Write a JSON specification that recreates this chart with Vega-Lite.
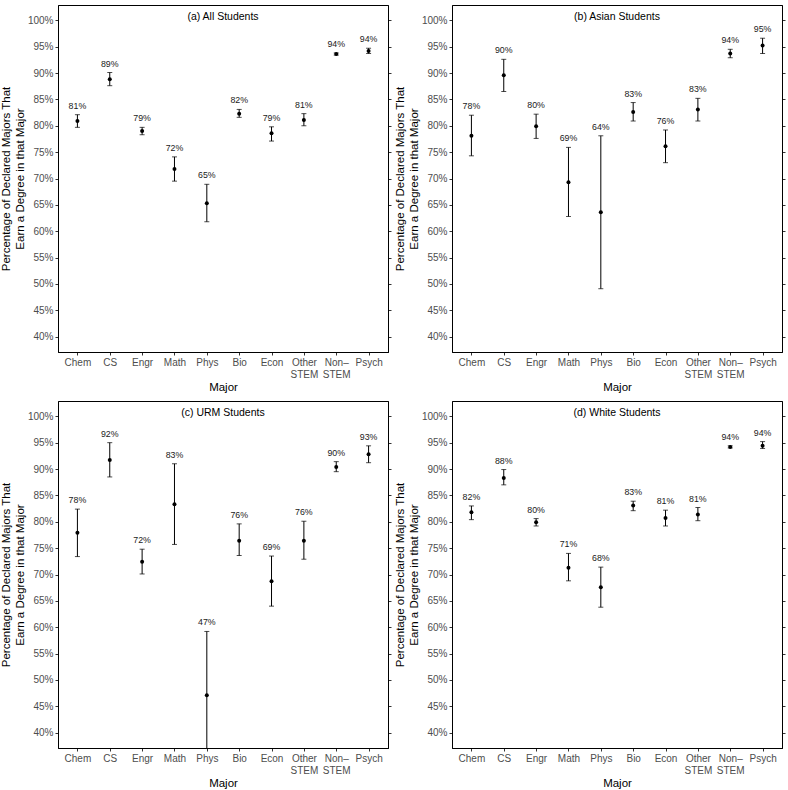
{
  "$schema": "https://vega.github.io/schema/vega-lite/v6.json",
  "description": "Percentage of declared majors that earn a degree in that major, by student group",
  "background": "white",
  "padding": {"left": 0, "top": 4, "right": 2, "bottom": 2},
  "data": {
    "values": [
      {"panel": "(a) All Students", "major": "Chem", "value": 0.809, "lo": 0.797, "hi": 0.821},
      {"panel": "(a) All Students", "major": "CS", "value": 0.888, "lo": 0.876, "hi": 0.901},
      {"panel": "(a) All Students", "major": "Engr", "value": 0.790, "lo": 0.783, "hi": 0.797},
      {"panel": "(a) All Students", "major": "Math", "value": 0.718, "lo": 0.695, "hi": 0.741},
      {"panel": "(a) All Students", "major": "Phys", "value": 0.653, "lo": 0.618, "hi": 0.689},
      {"panel": "(a) All Students", "major": "Bio", "value": 0.823, "lo": 0.816, "hi": 0.831},
      {"panel": "(a) All Students", "major": "Econ", "value": 0.786, "lo": 0.771, "hi": 0.798},
      {"panel": "(a) All Students", "major": "Other STEM", "value": 0.811, "lo": 0.800, "hi": 0.823},
      {"panel": "(a) All Students", "major": "Non–STEM", "value": 0.936, "lo": 0.934, "hi": 0.938},
      {"panel": "(a) All Students", "major": "Psych", "value": 0.942, "lo": 0.937, "hi": 0.947},

      {"panel": "(b) Asian Students", "major": "Chem", "value": 0.781, "lo": 0.743, "hi": 0.820},
      {"panel": "(b) Asian Students", "major": "CS", "value": 0.896, "lo": 0.865, "hi": 0.926},
      {"panel": "(b) Asian Students", "major": "Engr", "value": 0.799, "lo": 0.776, "hi": 0.822},
      {"panel": "(b) Asian Students", "major": "Math", "value": 0.693, "lo": 0.628, "hi": 0.759},
      {"panel": "(b) Asian Students", "major": "Phys", "value": 0.636, "lo": 0.491, "hi": 0.781},
      {"panel": "(b) Asian Students", "major": "Bio", "value": 0.826, "lo": 0.809, "hi": 0.844},
      {"panel": "(b) Asian Students", "major": "Econ", "value": 0.761, "lo": 0.730, "hi": 0.792},
      {"panel": "(b) Asian Students", "major": "Other STEM", "value": 0.831, "lo": 0.809, "hi": 0.852},
      {"panel": "(b) Asian Students", "major": "Non–STEM", "value": 0.937, "lo": 0.929, "hi": 0.945},
      {"panel": "(b) Asian Students", "major": "Psych", "value": 0.952, "lo": 0.937, "hi": 0.966},

      {"panel": "(c) URM Students", "major": "Chem", "value": 0.779, "lo": 0.734, "hi": 0.824},
      {"panel": "(c) URM Students", "major": "CS", "value": 0.917, "lo": 0.885, "hi": 0.950},
      {"panel": "(c) URM Students", "major": "Engr", "value": 0.724, "lo": 0.701, "hi": 0.748},
      {"panel": "(c) URM Students", "major": "Math", "value": 0.833, "lo": 0.757, "hi": 0.910},
      {"panel": "(c) URM Students", "major": "Phys", "value": 0.471, "lo": 0.340, "hi": 0.592},
      {"panel": "(c) URM Students", "major": "Bio", "value": 0.764, "lo": 0.736, "hi": 0.796},
      {"panel": "(c) URM Students", "major": "Econ", "value": 0.687, "lo": 0.640, "hi": 0.735},
      {"panel": "(c) URM Students", "major": "Other STEM", "value": 0.764, "lo": 0.729, "hi": 0.801},
      {"panel": "(c) URM Students", "major": "Non–STEM", "value": 0.904, "lo": 0.895, "hi": 0.914},
      {"panel": "(c) URM Students", "major": "Psych", "value": 0.928, "lo": 0.912, "hi": 0.944},

      {"panel": "(d) White Students", "major": "Chem", "value": 0.818, "lo": 0.804, "hi": 0.830},
      {"panel": "(d) White Students", "major": "CS", "value": 0.883, "lo": 0.870, "hi": 0.899},
      {"panel": "(d) White Students", "major": "Engr", "value": 0.799, "lo": 0.792, "hi": 0.806},
      {"panel": "(d) White Students", "major": "Math", "value": 0.713, "lo": 0.688, "hi": 0.740},
      {"panel": "(d) White Students", "major": "Phys", "value": 0.676, "lo": 0.638, "hi": 0.714},
      {"panel": "(d) White Students", "major": "Bio", "value": 0.831, "lo": 0.821, "hi": 0.839},
      {"panel": "(d) White Students", "major": "Econ", "value": 0.807, "lo": 0.792, "hi": 0.822},
      {"panel": "(d) White Students", "major": "Other STEM", "value": 0.814, "lo": 0.802, "hi": 0.827},
      {"panel": "(d) White Students", "major": "Non–STEM", "value": 0.942, "lo": 0.940, "hi": 0.944},
      {"panel": "(d) White Students", "major": "Psych", "value": 0.944, "lo": 0.939, "hi": 0.952}
    ]
  },
  "config": {
    "font": "Liberation Sans",
    "view": {"stroke": "black", "strokeWidth": 1},
    "axis": {
      "grid": false,
      "labelFont": "Liberation Sans",
      "labelFontSize": 10,
      "labelColor": "#4d4d4d",
      "titleFont": "Liberation Sans",
      "titleFontSize": 11.5,
      "titleFontWeight": "normal",
      "titleColor": "black",
      "tickColor": "#333333",
      "tickSize": 3,
      "domainColor": "black"
    }
  },
  "facet": {
    "field": "panel",
    "type": "nominal",
    "title": null,
    "header": {
      "labelFont": "Liberation Sans",
      "labelFontSize": 10.5,
      "labelColor": "black",
      "labelPadding": -17
    }
  },
  "columns": 2,
  "spacing": {"row": 7, "column": 2},
  "resolve": {"axis": {"x": "independent", "y": "independent"}},
  "spec": {
    "width": 330,
    "height": 347,
    "encoding": {
      "x": {
        "field": "major",
        "type": "nominal",
        "sort": ["Chem", "CS", "Engr", "Math", "Phys", "Bio", "Econ", "Other STEM", "Non–STEM", "Psych"],
        "scale": {"type": "point", "padding": 0.6},
        "axis": {
          "title": "Major",
          "labelAngle": 0,
          "labelPadding": 2,
          "labelExpr": "datum.label == 'Non–STEM' ? ['Non–', 'STEM'] : split(datum.label, ' ')",
          "titlePadding": 2
        }
      }
    },
    "layer": [
      {
        "mark": {"type": "rule", "color": "black", "strokeWidth": 1, "clip": true},
        "encoding": {
          "y": {
            "field": "lo",
            "type": "quantitative",
            "scale": {"domain": [0.371, 1.029], "nice": false, "zero": false},
            "axis": {
              "orient": "right",
              "labels": false,
              "title": null,
              "values": [0.4, 0.45, 0.5, 0.55, 0.6, 0.65, 0.7, 0.75, 0.8, 0.85, 0.9, 0.95, 1.0]
            }
          },
          "y2": {"field": "hi"}
        }
      },
      {
        "mark": {"type": "tick", "orient": "horizontal", "color": "black", "size": 5, "thickness": 1, "clip": true},
        "encoding": {
          "y": {"field": "lo", "type": "quantitative", "axis": null}
        }
      },
      {
        "mark": {"type": "tick", "orient": "horizontal", "color": "black", "size": 5, "thickness": 1, "clip": true},
        "encoding": {
          "y": {"field": "hi", "type": "quantitative", "axis": null}
        }
      },
      {
        "mark": {"type": "point", "filled": true, "color": "black", "size": 16, "opacity": 1},
        "encoding": {
          "y": {
            "field": "value",
            "type": "quantitative",
            "axis": {
              "orient": "left",
              "format": ".0%",
              "values": [0.4, 0.45, 0.5, 0.55, 0.6, 0.65, 0.7, 0.75, 0.8, 0.85, 0.9, 0.95, 1.0],
              "title": ["Percentage of Declared Majors That", "Earn a Degree in that Major"],
              "titlePadding": 2
            }
          }
        }
      },
      {
        "mark": {"type": "text", "fontSize": 8.8, "color": "#1a1a1a", "baseline": "alphabetic", "dy": -6},
        "encoding": {
          "y": {"field": "hi", "type": "quantitative", "axis": null},
          "text": {"field": "value", "type": "quantitative", "format": ".0%"}
        }
      }
    ],
    "resolve": {"axis": {"y": "independent"}}
  }
}
